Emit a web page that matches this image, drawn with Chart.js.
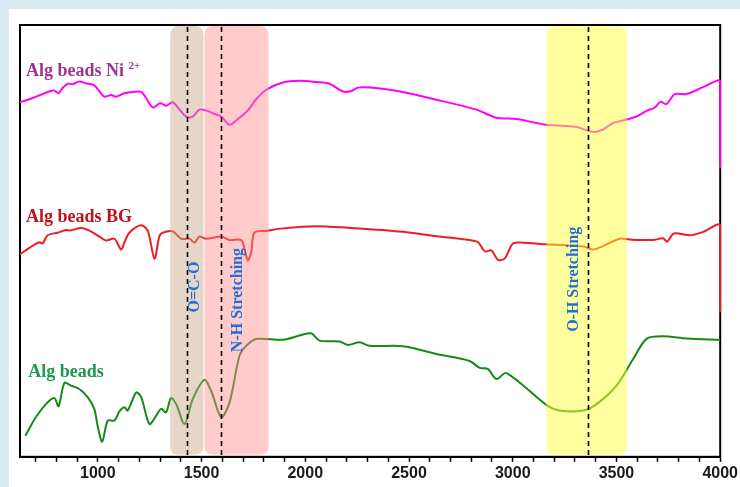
<!DOCTYPE html>
<html>
<head>
<meta charset="utf-8">
<script src="https://cdn.jsdelivr.net/npm/chart.js@4.4.1/dist/chart.umd.min.js"></script>
<style>
  html, body { margin: 0; padding: 0; width: 740px; height: 487px; overflow: hidden; background: #d8ecf2; }
  #panel { position: absolute; left: 9px; top: 9px; right: 0; bottom: 0; background: #ffffff; }
  #wrap { position: absolute; left: 0; top: 0; width: 740px; height: 487px; }
</style>
</head>
<body>
<div id="panel"></div>
<div id="wrap"><canvas id="c" width="740" height="487"></canvas></div>
<script>
// ---- Data (wavenumber cm-1, transmittance arbitrary units) ----
const niWn  = [625,670,718,766,790,811,830,855,879,911,943,983,1008,1032,1064,1088,1128,1168,1209,1233,1265,1300,1329,1361,1393,1426,1458,1490,1530,1562,1595,1635,1667,1723,1763,1812,1892,1972,2053,2117,2181,2222,2254,2310,2455,2632,2825,2921,3001,3034,3162,3307,3363,3395,3435,3484,3548,3597,3645,3685,3712,3741,3781,3838,3918,4000,4000];
const niVal = [82.1,82.8,83.7,84.6,84.8,84.2,85.4,86.4,86.3,86.9,86.5,86.0,84.6,83.4,83.8,83.4,84.2,84.5,84.5,83.1,80.9,81.9,81.3,82.1,80.5,78.8,78.8,80.4,80.1,79.4,78.8,76.9,77.9,80.2,82.8,85.0,86.7,87.1,86.8,86.4,84.6,84.7,85.5,85.5,84.6,82.7,80.4,78.5,78.3,78.1,76.9,76.4,75.5,75.2,75.8,77.3,78.1,78.8,80.1,80.9,82.2,81.7,84.0,84.0,85.6,86.9,66.9];

const bgWn  = [625,670,718,734,758,806,847,866,919,959,1008,1040,1080,1112,1128,1152,1209,1241,1273,1297,1313,1361,1402,1442,1466,1490,1522,1595,1635,1691,1707,1723,1739,1755,1812,1892,2053,2214,2310,2471,2632,2792,2833,2865,2897,2929,2961,3001,3050,3162,3339,3387,3435,3516,3564,3677,3725,3744,3777,3854,3918,4000,4000];
const bgVal = [46.9,48.4,49.7,49.4,51.3,51.9,52.5,52.4,53.0,52.4,51.0,50.1,50.5,48.0,49.6,51.9,53.6,52.3,45.9,51.1,51.9,52.2,50.5,50.5,49.6,51.0,50.5,51.0,50.2,50.2,48.2,45.5,47.3,51.9,52.3,52.9,53.4,53.0,52.7,52.1,51.1,50.2,49.7,47.6,47.8,45.6,45.9,49.4,49.6,49.2,48.7,48.0,48.8,50.5,50.3,50.2,50.6,49.8,51.7,51.3,52.1,53.6,33.5];

const algWn  = [651,702,750,790,811,839,871,911,951,983,999,1021,1048,1080,1104,1128,1144,1185,1209,1249,1281,1305,1329,1353,1378,1418,1458,1514,1546,1595,1635,1683,1715,1763,1892,1981,2029,2069,2165,2205,2262,2310,2471,2632,2792,2841,2881,2921,2970,3162,3227,3339,3404,3500,3580,3645,3725,3838,4000];
const algVal = [4.9,9.2,12.2,13.6,11.7,17.1,16.5,15.7,13.8,11.1,7.2,3.5,8.4,8.4,10.5,11.5,10.7,14.9,13.8,7.6,9.5,11.1,10.3,13.6,12.2,7.6,13.4,17.8,15.3,9.2,12.6,23.4,25.7,27.3,27.1,28.2,28.6,26.9,26.7,25.9,26.5,25.7,25.6,23.8,22.2,20.6,20.3,18.0,19.4,12.0,10.7,10.7,12.2,16.5,22.6,27.3,27.9,27.4,27.1];

const seriesNames = ['Alg beads Ni', 'Alg beads BG', 'Alg beads'];
const seriesLabelX = [654, 654, 665];
const seriesLabelY = [89.2, 55.4, 19.6];

// Shaded bands and marker lines (cm-1)
const bandStart = [1349, 1514, 3162];
const bandEnd   = [1509, 1823, 3550];
const markerWn  = [1431, 1596, 3362];

// Vertical annotations
const annoText = ['O=C-O', 'N-H Stretching', 'O-H Stretching'];
const annoX    = [1466, 1673, 3293];
const annoY    = [39.3, 36.3, 41.1];

// Axis
const xMin = 625, xMax = 4000, xStep = 100, xLabelEvery = 500;

// ---- Styles ----
const lineColors  = ['#ff00ff', '#ee1c24', '#158a15'];
const labelColors = ['#9e3591', '#c0101a', '#1e9650'];
const bandColors  = ['rgba(200,165,130,0.45)', 'rgba(255,140,140,0.45)', 'rgba(255,255,60,0.5)'];

function pts(xs, ys) { return xs.map((x, i) => ({ x: x, y: ys[i] })); }

function roundRect(ctx, x, y, w, h, r) {
  ctx.beginPath();
  ctx.moveTo(x + r, y);
  ctx.lineTo(x + w - r, y);
  ctx.quadraticCurveTo(x + w, y, x + w, y + r);
  ctx.lineTo(x + w, y + h - r);
  ctx.quadraticCurveTo(x + w, y + h, x + w - r, y + h);
  ctx.lineTo(x + r, y + h);
  ctx.quadraticCurveTo(x, y + h, x, y + h - r);
  ctx.lineTo(x, y + r);
  ctx.quadraticCurveTo(x, y, x + r, y);
  ctx.closePath();
}

const decor = {
  id: 'decor',
  beforeDatasetsDraw(chart) {
    const ctx = chart.ctx, a = chart.chartArea;
    ctx.save();
    ctx.strokeStyle = '#000';
    ctx.lineWidth = 2;
    ctx.strokeRect(a.left, a.top, a.right - a.left, a.bottom - a.top);
    ctx.restore();
  },
  afterDatasetsDraw(chart) {
    const ctx = chart.ctx, a = chart.chartArea;
    const xs = chart.scales.x, ys = chart.scales.y;
    ctx.save();
    // bands
    for (let i = 0; i < bandStart.length; i++) {
      const x0 = xs.getPixelForValue(bandStart[i]);
      const x1 = xs.getPixelForValue(bandEnd[i]);
      ctx.fillStyle = bandColors[i];
      roundRect(ctx, x0, a.top + 1, x1 - x0, a.bottom - a.top - 3, 9);
      ctx.fill();
    }
    // dashed markers
    ctx.strokeStyle = '#000';
    ctx.lineWidth = 1.6;
    ctx.setLineDash([5, 4]);
    for (const w of markerWn) {
      const x = Math.round(xs.getPixelForValue(w)) + 0.5;
      ctx.beginPath();
      ctx.moveTo(x, a.top + 2);
      ctx.lineTo(x, a.bottom);
      ctx.stroke();
    }
    ctx.setLineDash([]);
    // vertical annotations
    ctx.fillStyle = '#1f6fd6';
    ctx.font = 'bold 16px "Liberation Serif", "Times New Roman", serif';
    ctx.textAlign = 'center';
    ctx.textBaseline = 'middle';
    for (let i = 0; i < annoText.length; i++) {
      ctx.save();
      ctx.translate(xs.getPixelForValue(annoX[i]), ys.getPixelForValue(annoY[i]));
      ctx.rotate(-Math.PI / 2);
      ctx.fillText(annoText[i], 0, 0);
      ctx.restore();
    }
    // series labels
    ctx.textAlign = 'left';
    ctx.font = 'bold 18px "Liberation Serif", "Times New Roman", serif';
    for (let i = 0; i < seriesNames.length; i++) {
      const x = xs.getPixelForValue(seriesLabelX[i]);
      const y = ys.getPixelForValue(seriesLabelY[i]);
      ctx.fillStyle = labelColors[i];
      ctx.fillText(seriesNames[i], x, y);
      if (i === 0) {
        const w = ctx.measureText(seriesNames[i] + ' ').width;
        ctx.save();
        ctx.font = 'bold 11px "Liberation Serif", "Times New Roman", serif';
        ctx.fillText('2+', x + w, y - 5);
        ctx.restore();
      }
    }
    ctx.restore();
  }
};

new Chart(document.getElementById('c'), {
  type: 'line',
  data: {
    datasets: [
      { label: seriesNames[0], data: pts(niWn, niVal), borderColor: lineColors[0], clip: 3 },
      { label: seriesNames[1], data: pts(bgWn, bgVal), borderColor: lineColors[1], clip: 3 },
      { label: seriesNames[2], data: pts(algWn, algVal), borderColor: lineColors[2], clip: 3 }
    ]
  },
  options: {
    responsive: false,
    animation: false,
    parsing: true,
    layout: { padding: { left: 20, right: 18, top: 25, bottom: 2 } },
    elements: {
      point: { radius: 0 },
      line: { borderWidth: 2, tension: 0.3, fill: false }
    },
    plugins: { legend: { display: false }, tooltip: { enabled: false } },
    scales: {
      x: {
        type: 'linear',
        min: xMin, max: xMax,
        grid: { display: true, drawOnChartArea: false, drawTicks: true, tickLength: 5, tickColor: '#000', tickWidth: 1.5 },
        border: { display: true, color: '#000', width: 2 },
        ticks: {
          stepSize: xStep,
          includeBounds: false,
          autoSkip: false,
          maxRotation: 0,
          padding: 2,
          color: '#1a1a1a',
          font: { family: '"Liberation Sans", Arial, sans-serif', size: 16, weight: 'bold' },
          callback: (v) => (v % xLabelEvery === 0 ? String(v) : '')
        }
      },
      y: { display: false, min: 0, max: 100 }
    }
  },
  plugins: [decor]
});
</script>
</body>
</html>
